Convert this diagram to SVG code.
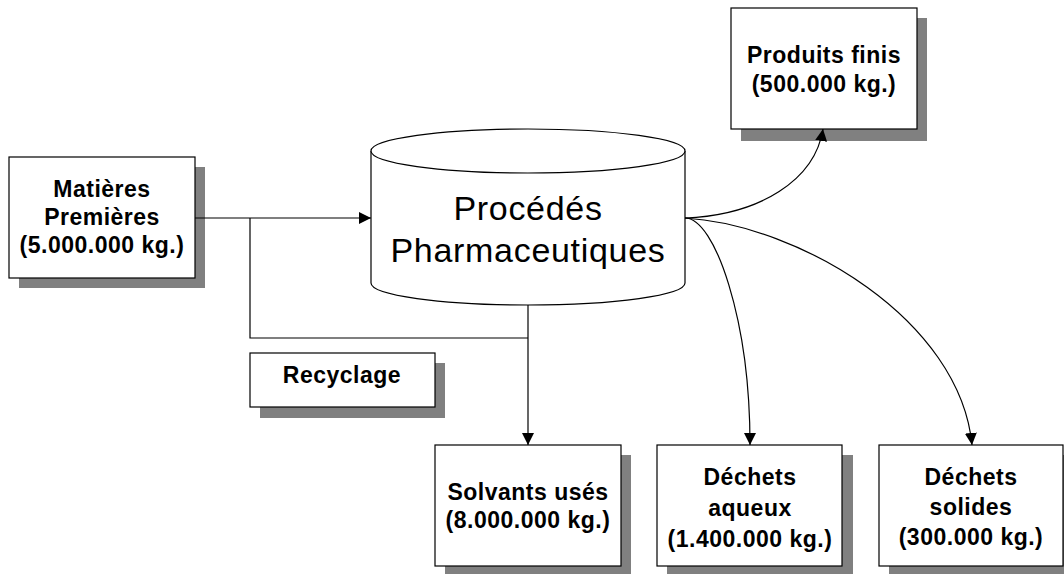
<svg xmlns="http://www.w3.org/2000/svg" width="1064" height="574" viewBox="0 0 1064 574">
  <style>
    .box { fill: #ffffff; stroke: #000000; stroke-width: 1.2; }
    .shadow { fill: #808080; stroke: none; }
    .lbl { font-family: "Liberation Sans", Arial, sans-serif; font-weight: bold; font-size: 23px; letter-spacing: 0.5px; text-anchor: middle; fill: #000000; }
    .big { font-family: "Liberation Sans", Arial, sans-serif; font-size: 34px; letter-spacing: 0.7px; text-anchor: middle; fill: #000000; }
    .wire { fill: none; stroke: #000000; stroke-width: 1.2; }
    .cyl { fill: #ffffff; stroke: #000000; stroke-width: 1.2; }
  </style>
  <defs>
    <marker id="arrow" viewBox="0 0 12 12" refX="12" refY="6" markerWidth="12" markerHeight="12" markerUnits="userSpaceOnUse" orient="auto">
      <path d="M0,0 L12,6 L0,12 Z" fill="#000000"/>
    </marker>
  </defs>

  <rect width="1064" height="574" fill="#ffffff"/>

  <!-- raw materials -->
  <g id="matieres">
    <rect class="shadow" x="19" y="167" width="186" height="121"/>
    <rect class="box" x="9" y="157" width="186" height="121"/>
    <text class="lbl" x="102" y="197">Matières</text>
    <text class="lbl" x="102" y="225">Premières</text>
    <text class="lbl" x="102" y="253">(5.000.000 kg.)</text>
  </g>

  <!-- process cylinder -->
  <g id="procedes">
    <path class="cyl" d="M371,151 V283 A157,22 0 0 0 685,283 V151"/>
    <ellipse class="cyl" cx="528" cy="151" rx="157" ry="22"/>
    <text class="big" x="528" y="220">Procédés</text>
    <text class="big" x="528" y="262">Pharmaceutiques</text>
  </g>

  <!-- finished products -->
  <g id="produits">
    <rect class="shadow" x="741" y="18" width="186" height="123"/>
    <rect class="box" x="731" y="8" width="186" height="121"/>
    <text class="lbl" x="824" y="63">Produits finis</text>
    <text class="lbl" x="824" y="92">(500.000 kg.)</text>
  </g>

  <!-- recycling -->
  <g id="recyclage">
    <rect class="shadow" x="260" y="363" width="185" height="55"/>
    <rect class="box" x="250" y="353" width="185" height="54"/>
    <text class="lbl" x="342" y="383">Recyclage</text>
  </g>

  <!-- spent solvents -->
  <g id="solvants">
    <rect class="shadow" x="445" y="455" width="186" height="121"/>
    <rect class="box" x="435" y="445" width="186" height="121"/>
    <text class="lbl" x="528" y="500">Solvants usés</text>
    <text class="lbl" x="528" y="528">(8.000.000 kg.)</text>
  </g>

  <!-- aqueous waste -->
  <g id="aqueux">
    <rect class="shadow" x="667" y="455" width="186" height="121"/>
    <rect class="box" x="657" y="445" width="185" height="121"/>
    <text class="lbl" x="750" y="485">Déchets</text>
    <text class="lbl" x="750" y="516">aqueux</text>
    <text class="lbl" x="750" y="547">(1.400.000 kg.)</text>
  </g>

  <!-- solid waste -->
  <g id="solides">
    <rect class="shadow" x="889" y="455" width="186" height="121"/>
    <rect class="box" x="879" y="445" width="184" height="121"/>
    <text class="lbl" x="971" y="485">Déchets</text>
    <text class="lbl" x="971" y="515">solides</text>
    <text class="lbl" x="971" y="545">(300.000 kg.)</text>
  </g>

  <!-- connectors, drawn last so arrowheads sit over shadows -->
  <g id="connectors">
    <path class="wire" d="M195,218 H371" marker-end="url(#arrow)"/>
    <path class="wire" d="M528,305 V445" marker-end="url(#arrow)"/>
    <path class="wire" d="M528,338 H250 V218"/>
    <path class="wire" d="M685,218 C760,215 815,180 823,129" marker-end="url(#arrow)"/>
    <path class="wire" d="M685,218 C715,218 750,320 750,445" marker-end="url(#arrow)"/>
    <path class="wire" d="M685,218 C800,225 960,320 972,445" marker-end="url(#arrow)"/>
  </g>
</svg>
